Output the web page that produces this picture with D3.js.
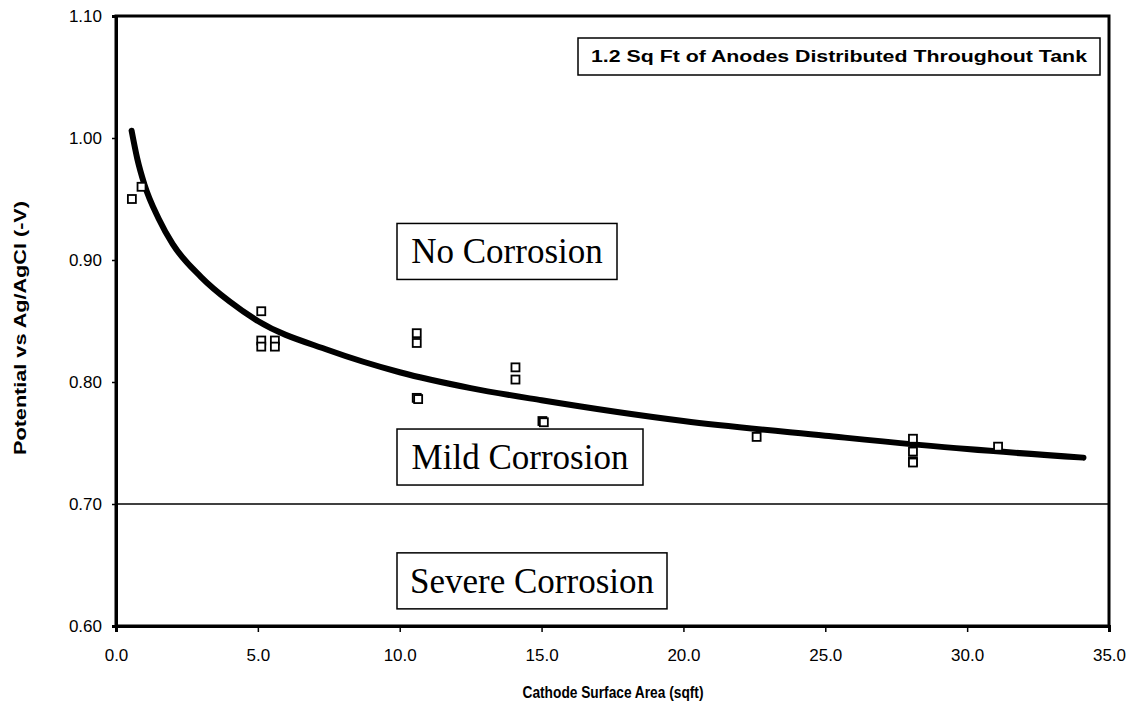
<!DOCTYPE html>
<html><head><meta charset="utf-8">
<script src="https://cdn.jsdelivr.net/npm/d3@7"></script>
<style>body{margin:0;background:#fff}svg{display:block}</style>
</head><body>
<svg id="c" width="1133" height="708"></svg>
<script>
// Measured data (cathode area sqft, potential -V)
const measX = [0.56, 0.9, 5.12, 5.12, 5.12, 5.6, 5.6, 10.6, 10.6, 10.6, 10.65, 14.08, 14.08, 15.03, 15.08, 22.58, 28.09, 28.09, 28.09, 28.09, 31.09];
const measY = [0.950, 0.960, 0.858, 0.834, 0.829, 0.834, 0.829, 0.840, 0.832, 0.787, 0.786, 0.812, 0.802, 0.768, 0.767, 0.755, 0.7535, 0.743, 0.735, 0.734, 0.747];
// Trend line points
const trendX = [0.55, 0.75, 1, 1.5, 2, 3, 4, 5, 7.5, 10, 12.5, 15, 20, 25, 30, 34.1];
const trendY = [1.006, 0.983, 0.962, 0.934, 0.913, 0.886, 0.866, 0.850, 0.826, 0.808, 0.795, 0.785, 0.768, 0.756, 0.745, 0.738];
const xTicks = [0, 5, 10, 15, 20, 25, 30, 35];
const yTicks = [0.60, 0.70, 0.80, 0.90, 1.00, 1.10];
const zoneLabels = ["No Corrosion", "Mild Corrosion", "Severe Corrosion"];
const zoneY = [0.907, 0.7385, 0.637];
const noteText = "1.2 Sq Ft of Anodes Distributed Throughout Tank";
const xTitle = "Cathode Surface Area (sqft)";
const yTitle = "Potential vs Ag/AgCl (-V)";

const svg = d3.select("#c");
const L = 116, R = 1109, T = 16, B = 626;
const x = d3.scaleLinear().domain([0, 35]).range([L, R]);
const y = d3.scaleLinear().domain([0.6, 1.1]).range([B, T]);
const sans = "Arial, 'Liberation Sans', sans-serif";

// frame
svg.append("rect").attr("x", L).attr("y", T).attr("width", R - L).attr("height", B - T)
  .attr("fill", "none").attr("stroke", "#000").attr("stroke-width", 3);

// 0.70 threshold line
svg.append("line").attr("x1", L).attr("x2", R).attr("y1", y(0.70)).attr("y2", y(0.70))
  .attr("stroke", "#000").attr("stroke-width", 1.5);

// axes
const xa = svg.append("g").attr("transform", `translate(0,${B})`)
  .call(d3.axisBottom(x).tickValues(xTicks).tickFormat(d3.format(".1f")).tickSize(6).tickPadding(17));
const ya = svg.append("g").attr("transform", `translate(${L},0)`)
  .call(d3.axisLeft(y).tickValues(yTicks).tickFormat(d3.format(".2f")).tickSize(4).tickPadding(10));
[xa, ya].forEach(g => {
  g.select(".domain").attr("stroke", "#000").attr("stroke-width", 3);
  g.selectAll(".tick line").attr("stroke", "#000").attr("stroke-width", 1.5);
  g.selectAll(".tick text").attr("font-family", sans)
    .attr("font-size", 17).attr("fill", "#000");
});

// axis titles
svg.append("text").attr("x", 613).attr("y", 698).attr("text-anchor", "middle")
  .attr("font-family", sans).attr("font-weight", "bold")
  .attr("font-size", 16).attr("textLength", 181).attr("lengthAdjust", "spacingAndGlyphs").text(xTitle);
svg.append("text").attr("transform", `translate(26,328) rotate(-90)`).attr("text-anchor", "middle")
  .attr("font-family", sans).attr("font-weight", "bold")
  .attr("font-size", 16).attr("textLength", 254).attr("lengthAdjust", "spacingAndGlyphs").text(yTitle);

// zone labels with boxes
const boxW = [220, 246, 270];
zoneLabels.forEach((s, i) => {
  const g = svg.append("g");
  g.append("rect").attr("x", 397).attr("y", y(zoneY[i]) - 28)
    .attr("width", boxW[i]).attr("height", 56)
    .attr("fill", "#fff").attr("stroke", "#000").attr("stroke-width", 1.5);
  g.append("text").attr("x", 397 + boxW[i] / 2).attr("y", y(zoneY[i]) + 12).attr("text-anchor", "middle")
    .attr("font-family", "'Liberation Serif', 'Times New Roman', serif")
    .attr("font-size", 35).attr("fill", "#000").text(s);
});

// note box
const ng = svg.append("g");
ng.append("rect").attr("x", 578).attr("y", 38).attr("width", 522).attr("height", 37)
  .attr("fill", "#fff").attr("stroke", "#000").attr("stroke-width", 1.5);
ng.append("text").attr("x", 839).attr("y", 62).attr("text-anchor", "middle")
  .attr("font-family", sans).attr("font-weight", "bold")
  .attr("font-size", 16).attr("textLength", 496).attr("lengthAdjust", "spacingAndGlyphs").text(noteText);

// trend curve
const line = d3.line().x((d, i) => x(trendX[i])).y((d, i) => y(trendY[i])).curve(d3.curveMonotoneX);
svg.append("path").datum(trendX).attr("d", line).attr("fill", "none")
  .attr("stroke", "#000").attr("stroke-width", 6).attr("stroke-linecap", "round");

// measured points
svg.append("g").selectAll("rect").data(measX).join("rect")
  .attr("x", (d, i) => x(d) - 4).attr("y", (d, i) => y(measY[i]) - 4)
  .attr("width", 8).attr("height", 8)
  .attr("fill", "#fff").attr("stroke", "#000").attr("stroke-width", 1.8);
</script>
</body></html>
